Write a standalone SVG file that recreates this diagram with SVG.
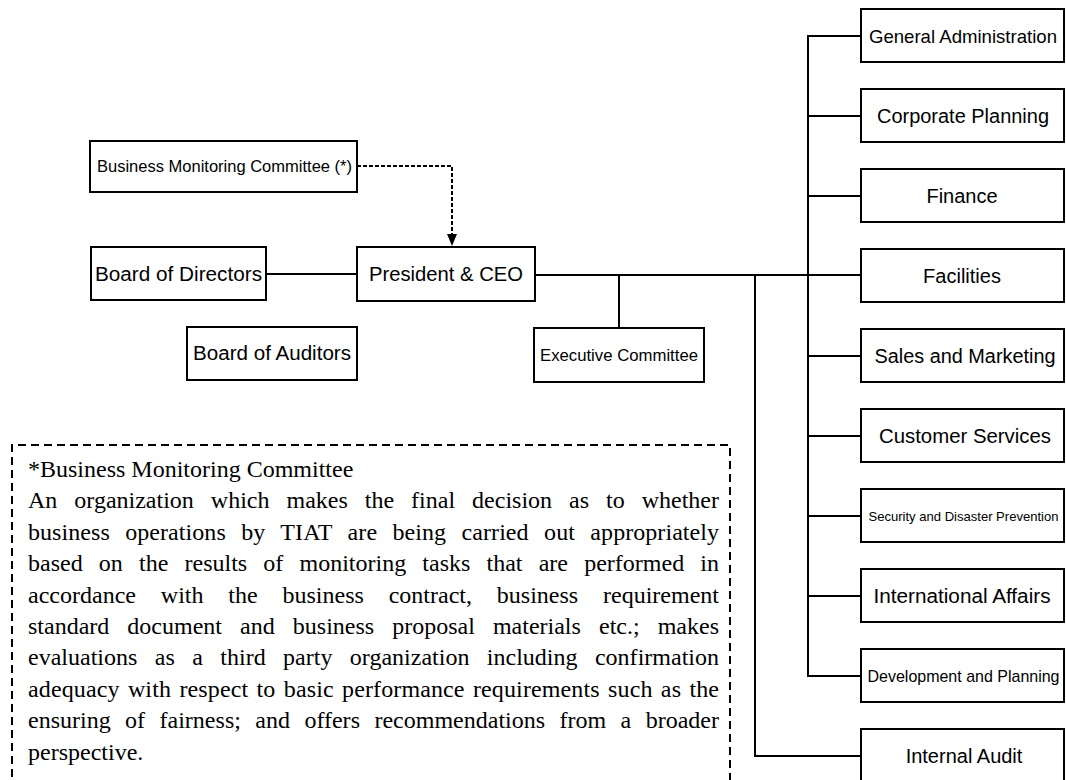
<svg xmlns="http://www.w3.org/2000/svg" width="1066" height="780" viewBox="0 0 1066 780">
  <style>
    .box { fill: #ffffff; stroke: #000000; stroke-width: 2; }
    .lbl { font-family: "Liberation Sans", Arial, sans-serif; font-size: 20px; fill: #000000; text-anchor: middle; }
    .wire { fill: none; stroke: #000000; stroke-width: 2; }
    .dash { fill: none; stroke: #000000; stroke-width: 2; stroke-dasharray: 4 2; }
    .note-frame { fill: none; stroke: #000000; stroke-width: 2; stroke-dasharray: 8 5; }
    .note { font-family: "Liberation Serif", "Times New Roman", serif; font-size: 24px; fill: #000000; }
  </style>
  <rect width="1066" height="780" fill="#ffffff"/>

  <!-- connectors -->
  <g id="connectors">
    <path class="dash" d="M357,166 H452 V234"/>
    <path d="M447,234 L457,234 L452,246 Z" fill="#000000"/>
    <line class="wire" x1="266" y1="274" x2="357" y2="274"/>
    <line class="wire" x1="535" y1="275" x2="861" y2="275"/>
    <line class="wire" x1="619" y1="275" x2="619" y2="328"/>
    <!-- department bus -->
    <path class="wire" d="M861,36 H808 V676 H861"/>
    <line class="wire" x1="808" y1="116" x2="861" y2="116"/>
    <line class="wire" x1="808" y1="196" x2="861" y2="196"/>
    <line class="wire" x1="808" y1="356" x2="861" y2="356"/>
    <line class="wire" x1="808" y1="436" x2="861" y2="436"/>
    <line class="wire" x1="808" y1="516" x2="861" y2="516"/>
    <line class="wire" x1="808" y1="596" x2="861" y2="596"/>
    <!-- audit line -->
    <path class="wire" d="M755,275 V756 H861"/>
  </g>

  <!-- governance nodes -->
  <g id="business-monitoring">
    <rect class="box" x="90" y="141" width="267" height="51"/>
    <text class="lbl" x="224.5" y="172" style="font-size:16px" textLength="255" lengthAdjust="spacingAndGlyphs">Business Monitoring Committee (*)</text>
  </g>
  <g id="board-directors">
    <rect class="box" x="91" y="247" width="175" height="53"/>
    <text class="lbl" x="178.5" y="281" textLength="167" lengthAdjust="spacingAndGlyphs">Board of Directors</text>
  </g>
  <g id="president">
    <rect class="box" x="357" y="247" width="178" height="54"/>
    <text class="lbl" x="446" y="281" textLength="154" lengthAdjust="spacingAndGlyphs">President &amp; CEO</text>
  </g>
  <g id="board-auditors">
    <rect class="box" x="187" y="327" width="170" height="53"/>
    <text class="lbl" x="272" y="360" textLength="158" lengthAdjust="spacingAndGlyphs">Board of Auditors</text>
  </g>
  <g id="executive-committee">
    <rect class="box" x="534" y="328" width="170" height="54"/>
    <text class="lbl" x="619" y="361" style="font-size:17px" textLength="158" lengthAdjust="spacingAndGlyphs">Executive Committee</text>
  </g>

  <!-- departments -->
  <g id="general-administration">
    <rect class="box" x="861" y="9" width="203" height="53"/>
    <text class="lbl" x="963" y="42.5" style="font-size:18.6px">General Administration</text>
  </g>
  <g id="corporate-planning">
    <rect class="box" x="861" y="89" width="203" height="53"/>
    <text class="lbl" x="963" y="123" textLength="172" lengthAdjust="spacingAndGlyphs">Corporate Planning</text>
  </g>
  <g id="finance">
    <rect class="box" x="861" y="169" width="203" height="53"/>
    <text class="lbl" x="962" y="203">Finance</text>
  </g>
  <g id="facilities">
    <rect class="box" x="861" y="249" width="203" height="53"/>
    <text class="lbl" x="962" y="283">Facilities</text>
  </g>
  <g id="sales-marketing">
    <rect class="box" x="861" y="329" width="203" height="53"/>
    <text class="lbl" x="965" y="363" textLength="181" lengthAdjust="spacingAndGlyphs">Sales and Marketing</text>
  </g>
  <g id="customer-services">
    <rect class="box" x="861" y="409" width="203" height="53"/>
    <text class="lbl" x="965" y="443" textLength="172" lengthAdjust="spacingAndGlyphs">Customer Services</text>
  </g>
  <g id="security">
    <rect class="box" x="861" y="489" width="203" height="53"/>
    <text class="lbl" x="963.5" y="520.5" style="font-size:13.4px" textLength="190" lengthAdjust="spacingAndGlyphs">Security and Disaster Prevention</text>
  </g>
  <g id="international-affairs">
    <rect class="box" x="861" y="569" width="203" height="53"/>
    <text class="lbl" x="962" y="603" textLength="177" lengthAdjust="spacingAndGlyphs">International Affairs</text>
  </g>
  <g id="development-planning">
    <rect class="box" x="861" y="649" width="203" height="53"/>
    <text class="lbl" x="963.5" y="681.5" style="font-size:16.4px" textLength="192" lengthAdjust="spacingAndGlyphs">Development and Planning</text>
  </g>
  <g id="internal-audit">
    <rect class="box" x="861" y="729" width="203" height="60"/>
    <text class="lbl" x="964" y="763">Internal Audit</text>
  </g>

  <!-- footnote -->
  <g id="note">
    <path class="note-frame" d="M12,790 V445 H730 V790"/>
    <text class="note" x="28" y="477">*Business Monitoring Committee</text>
    <text class="note" x="28" y="508.4" word-spacing="11" textLength="691" lengthAdjust="spacing">An organization which makes the final decision as to whether</text>
    <text class="note" x="28" y="539.8" word-spacing="9.4" textLength="691" lengthAdjust="spacing">business operations by TIAT are being carried out appropriately</text>
    <text class="note" x="28" y="571.2" word-spacing="10.2" textLength="691" lengthAdjust="spacing">based on the results of monitoring tasks that are performed in</text>
    <text class="note" x="28" y="602.6" word-spacing="18.8" textLength="691" lengthAdjust="spacing">accordance with the business contract, business requirement</text>
    <text class="note" x="28" y="634" word-spacing="12.1" textLength="691" lengthAdjust="spacing">standard document and business proposal materials etc.; makes</text>
    <text class="note" x="28" y="665.4" word-spacing="11.4" textLength="691" lengthAdjust="spacing">evaluations as a third party organization including confirmation</text>
    <text class="note" x="28" y="696.8" word-spacing="2.2" textLength="691" lengthAdjust="spacing">adequacy with respect to basic performance requirements such as the</text>
    <text class="note" x="28" y="728.2" word-spacing="8.4" textLength="691" lengthAdjust="spacing">ensuring of fairness; and offers recommendations from a broader</text>
    <text class="note" x="28" y="759.6">perspective.</text>
  </g>
</svg>
